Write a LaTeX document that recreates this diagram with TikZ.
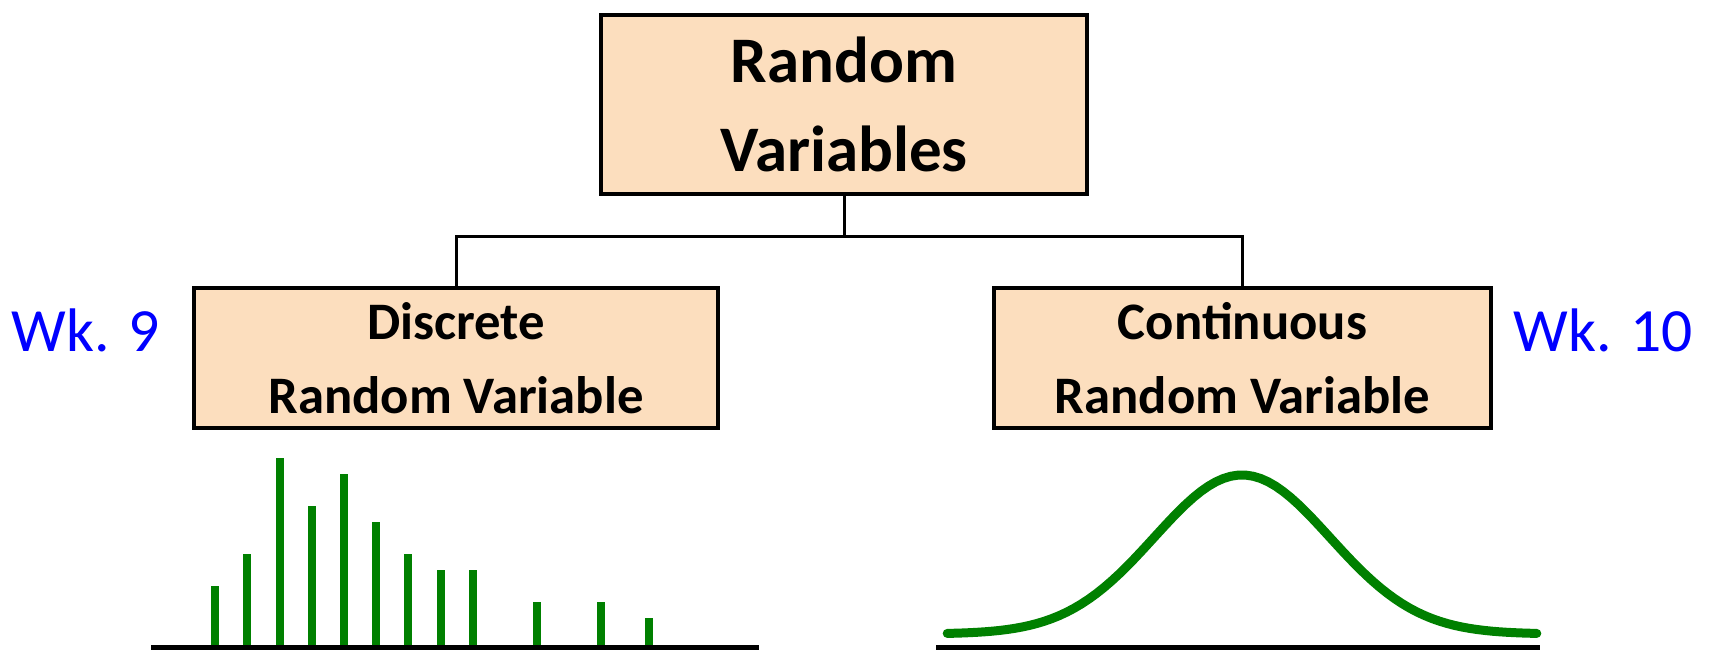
\documentclass[tikz,border=0pt]{standalone}
\usepackage{fontspec}
\setmainfont{Carlito}
\usetikzlibrary{positioning,calc}
\definecolor{peach}{RGB}{252,222,190}
\definecolor{stemgreen}{RGB}{0,128,0}
\tikzset{rect/.style={
    draw,
    rectangle,
    line width=0.08cm,
    fill=peach,
    align=center,
  }}
\tikzset{stem/.style={stemgreen, line width=0.16cm}}
\tikzset{axis/.style={black, line width=0.1cm}}

\begin{document}
\begin{tikzpicture}[x=0.02cm, y=0.02cm]
  \useasboundingbox (0,0) rectangle (1713,652);

  % the three boxes
  \node (rv) [rect, minimum width=9.72cm, minimum height=3.58cm,
    font=\bfseries\fontsize{37}{51}\selectfont] at (844,547.5) {Random\\Variables};
  \node (drv) [rect, minimum width=10.48cm, minimum height=2.8cm,
    font=\bfseries\fontsize{30}{42}\selectfont] at (456,294) {Discrete\\Random Variable};
  \node (crv) [rect, minimum width=9.94cm, minimum height=2.8cm,
    font=\bfseries\fontsize{30}{42}\selectfont] at (1242.5,294) {Continuous\\Random Variable};

  % tree connector
  \coordinate (split) at (844,415);
  \draw[line width=0.06cm] (rv.south) -- (split);
  \draw[line width=0.06cm] (drv.north) |- (split) -| (crv.north);

  \node (wk9) [anchor=base west, text=blue, inner sep=0,
    font=\fontsize{35}{40}\selectfont] at (11,300) {Wk. 9};
  \node (wk10) [anchor=base east, text=blue, inner sep=0,
    font=\fontsize{35}{40}\selectfont] at (1693,300) {Wk. 10};

  % discrete: stems
  \foreach \x/\h in {215/62, 247/94, 280/190, 312/142, 344/174, 376/126,
                     408/94, 441/78, 473/78, 537/46, 601/46, 649/30}
    \draw[stem] (\x,4) -- ++(0,\h);
  \draw[axis] (151,4) -- (759,4);

  % continuous: bell curve
  \draw[stemgreen, line width=0.18cm, line cap=round, line join=round]
    plot[domain=-3.35:3.35, samples=80] ({1242+88*\x}, {18+159*exp(-\x*\x/2)});
  \draw[axis] (936,4) -- (1540,4);
\end{tikzpicture}
\end{document}
